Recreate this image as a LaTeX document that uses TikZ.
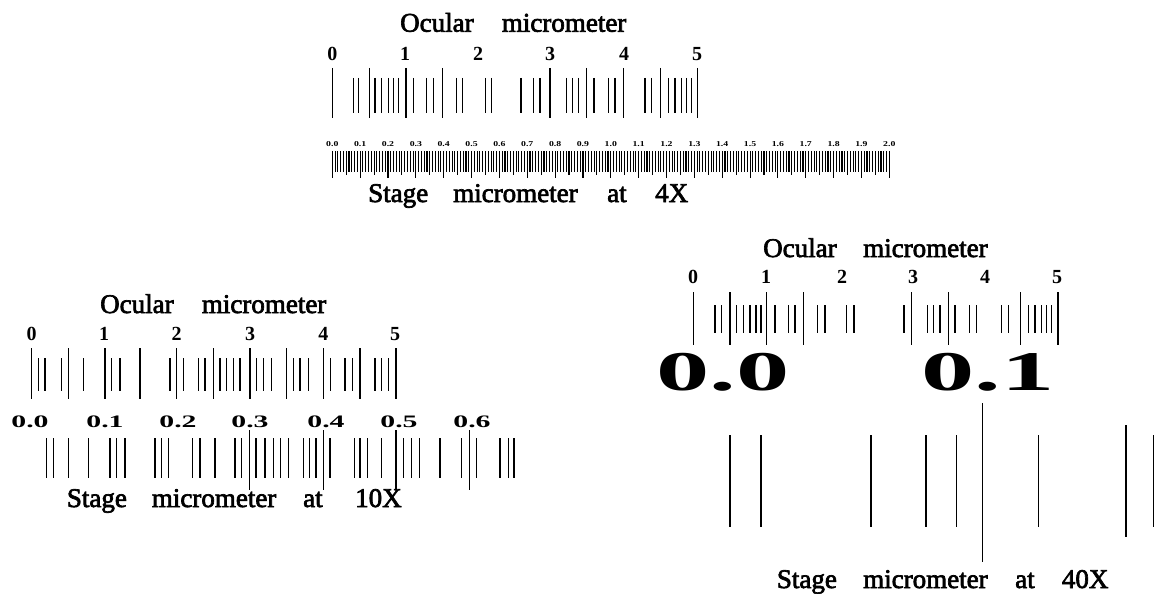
\documentclass[tikz,border=0pt]{standalone}
\usepackage{fontspec}
\setmainfont{Liberation Serif}
\newfontface\heavyserif{Liberation Serif}[FakeBold=2.5]
\usepackage{graphicx}
\begin{document}
\begin{tikzpicture}[x=1pt,y=-1pt,
  tick/.style={line width=1.5pt},
  fine/.style={line width=1.1pt},
  word/.style={anchor=base west, inner sep=0pt, font=\fontsize{27}{30}\heavyserif},
  num/.style={anchor=base, inner sep=0pt, font=\fontsize{20}{22}\selectfont\bfseries},
  tinylbl/.style={anchor=base, inner sep=0pt, font=\fontsize{7.5}{8}\selectfont\bfseries},
  midlbl/.style={anchor=base, inner sep=0pt, font=\fontsize{17.5}{19}\selectfont\bfseries},
  biglbl/.style={anchor=base, inner sep=0pt, font=\fontsize{56}{60}\selectfont\bfseries}]
\fill[white] (0,0) rectangle (1157,594);
\useasboundingbox (0,0) rectangle (1157,594);

% ---------- 4X: ocular scale ----------
\node[word] (aOc) at (400,31.7) {Ocular};
\node[word] (aMi) at (501.7,31.7) {micrometer};
\foreach \x [count=\i from 0] in {332.3,405,478,550,624,697}
  \node[num] (an\i) at (\x,60) {\i};
\foreach \x in {332.3,369.3,406,442.3,550,586.7,623.3,660.7,697.3}
  \draw[tick] (\x,68) -- (\x,118);
\foreach \x in {353.3,358.3,375,381.7,388.3,393.3,398.3,413.3,426.7,433.3,
                456.7,462.7,485.7,491.7,521,533.3,540,566.7,572.7,578.3,
                594,608.3,615,645,651.7,668.3,675,681.7,686.7,691.7}
  \draw[tick] (\x,78) -- (\x,113);

% ---------- 4X: stage scale, 0.01 steps ----------
\foreach \i in {0,...,20} {
  \pgfmathtruncatemacro\ia{\i/10}
  \pgfmathtruncatemacro\ib{mod(\i,10)}
  \node[tinylbl] (al\i) at ({332.3+27.85*\i},146) {\scalebox{1.3}[1]{\ia.\ib}};
}
\foreach \i in {0,...,200} {
  \pgfmathsetmacro\xx{332.3+2.785*\i}
  \pgfmathsetmacro\yy{mod(\i,10)==0 ? 178 : (mod(\i,5)==0 ? 175 : 172)}
  \draw[fine] (\xx,151) -- (\xx,\yy);
}
\node[word] (aSt) at (368,202) {Stage};
\node[word] (aSm) at (453,202) {micrometer};
\node[word] (aAt) at (607,202) {at};
\node[word] (aMg) at (655,202) {4X};

% ---------- 10X: ocular scale ----------
\node[word] (bOc) at (100,313) {Ocular};
\node[word] (bMi) at (201.7,313) {micrometer};
\foreach \x [count=\i from 0] in {31.7,104,176.7,250,323.3,395}
  \node[num] (bn\i) at (\x,340) {\i};
\foreach \x in {31.7,68.3,105,140,176.7,213.3,250,286.7,323.3,360,396}
  \draw[tick] (\x,348) -- (\x,399);
\foreach \x in {38.3,45,61.7,83.3,111.7,120,170,183.3,198.3,205,220,226.7,
                233.3,240,256.7,263.3,271.7,293.3,300,308.3,330.7,345,
                352.7,375,381.7,388.3}
  \draw[tick] (\x,358) -- (\x,391);

% ---------- 10X: stage scale ----------
\foreach \x [count=\i from 0] in {30,105,178,250,326,399,472}
  \node[midlbl] (bl\i) at (\x,427) {\scalebox{1.7}[1]{0.\i}};
\foreach \x in {46.7,53.3,68.3,88.3,110,116.7,125,155,161.7,168.3,192.7,200,
                215,235,241.7,256,265,273.3,280.7,288.3,303.3,309.3,316,330,
                354.3,360,367.3,381.7,403.3,411.7,419.3,440,461.7,476.7,500,
                508.3,514}
  \draw[tick] (\x,438) -- (\x,478);
\foreach \x in {249.3,323.3,396,469.3}
  \draw[tick] (\x,430) -- (\x,490);
\node[word] (bSt) at (66.7,507) {Stage};
\node[word] (bSm) at (151.7,507) {micrometer};
\node[word] (bAt) at (303,507) {at};
\node[word] (bMg) at (355,507) {10X};

% ---------- 40X: ocular scale ----------
\node[word] (cOc) at (763,257) {Ocular};
\node[word] (cMi) at (863,257) {micrometer};
\foreach \x [count=\i from 0] in {693,766,842,913,985,1057}
  \node[num] (cn\i) at (\x,283.3) {\i};
\foreach \x in {693.3,730,766.7,803.3,911.7,948.3,1020.7,1058}
  \draw[tick] (\x,292) -- (\x,345);
\foreach \x in {715,721.7,736.7,743.3,750,756,761,775,788.3,795,817.3,825,
                846.7,854,904,927.7,933.3,940,955,969.3,976.7,1001.7,1008.3,
                1028.3,1035,1041.7,1046.7,1051.7}
  \draw[tick] (\x,305) -- (\x,333);

% ---------- 40X: stage scale ----------
\node[biglbl] (cl0) at (723,390) {\scalebox{1.9}[1]{0.0}};
\node[biglbl] (cl1) at (988,390) {\scalebox{1.9}[1]{0.1}};
\foreach \x in {730,761,871,926,956.7,1038.3,1153.3}
  \draw[line width=1.3pt] (\x,435) -- (\x,527);
\draw[line width=1.3pt] (982.7,403) -- (982.7,562);
\draw[line width=1.3pt] (1126,425) -- (1126,537);
\node[word] (cSt) at (776.7,588) {Stage};
\node[word] (cSm) at (863,588) {micrometer};
\node[word] (cAt) at (1015,588) {at};
\node[word] (cMg) at (1061.7,588) {40X};
\end{tikzpicture}
\end{document}
